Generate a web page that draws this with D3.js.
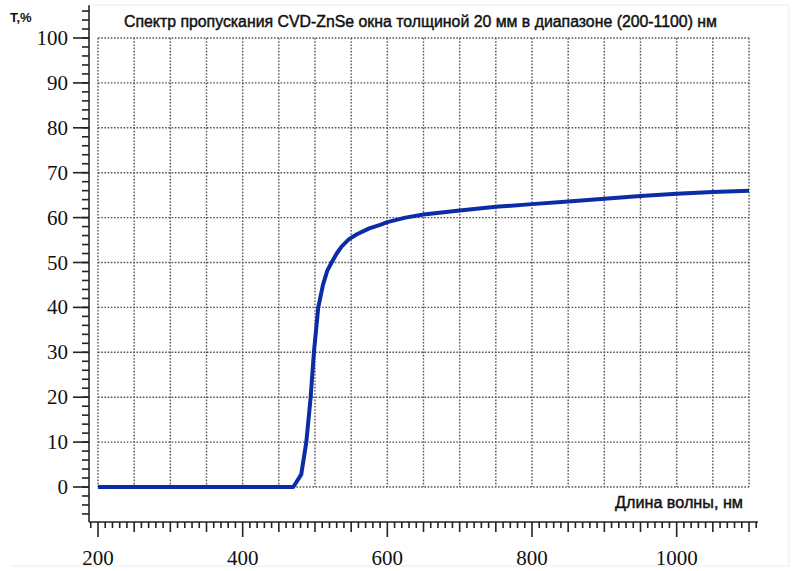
<!DOCTYPE html>
<html lang="ru">

<head>
    <meta charset="UTF-8">
    <title>Спектр пропускания CVD-ZnSe</title>
    <script src="https://d3js.org/d3.v7.min.js"></script>
    <style>
        body { margin: 0; background: #fff; }
        .serif { font-family: "Liberation Serif", "Times New Roman", serif; }
        .sans { font-family: "Liberation Sans", Arial, sans-serif; }
    </style>
</head>

<body>
    <svg width="800" height="571"></svg>

    <script>
        // spectrum: wavelength, nm / transmission, %
        const wavelength = [200, 470, 481, 488, 494, 498.5, 504.5, 511, 517, 523, 530, 537, 547, 558, 575, 590, 600, 625, 650, 700, 750, 800, 850, 900, 950, 1000, 1050, 1100];
        const transmission = [0, 0, 2.8, 10, 20, 30, 40, 45, 48.2, 50, 52, 53.6, 55.2, 56.3, 57.6, 58.4, 59, 60, 60.7, 61.6, 62.4, 63, 63.6, 64.2, 64.8, 65.3, 65.7, 66];

        const xMajorTicks = [200, 400, 600, 800, 1000];
        const yMajorTicks = [0, 10, 20, 30, 40, 50, 60, 70, 80, 90, 100];
        const xGrid = d3.range(200, 1101, 50);
        const yGrid = d3.range(0, 101, 10);

        const title = "Спектр пропускания CVD-ZnSe окна толщиной 20 мм в диапазоне (200-1100) нм";
        const xTitle = "Длина волны, нм";
        const yTitle = "T,%";

        const svg = d3.select("svg");

        const x = d3.scaleLinear().domain([200, 1100]).range([98, 749]);
        const y = d3.scaleLinear().domain([0, 100]).range([487, 38]);

        const axisX = 89;   // y axis sits left of the plot area
        const axisY = 522;  // x axis sits below the plot area

        function drawFrame() {
            // faint edges of the scanned sheet
            const frame = svg.append("g").attr("stroke", "#ececec").attr("stroke-width", 1);
            frame.append("line").attr("x1", 93).attr("y1", 5).attr("x2", 789).attr("y2", 5);
            frame.append("line").attr("x1", 789).attr("y1", 5).attr("x2", 789).attr("y2", 566);
            frame.append("line").attr("x1", 10).attr("y1", 566).attr("x2", 789).attr("y2", 566);
        }

        function drawGrid() {
            const grid = svg.append("g")
                .attr("stroke", "#555")
                .attr("stroke-width", 1.4)
                .attr("stroke-dasharray", "1.6,1.6");

            grid.selectAll(".vgrid")
                .data(xGrid)
                .enter().append("line")
                .attr("x1", d => x(d)).attr("x2", d => x(d))
                .attr("y1", y(100)).attr("y2", y(0));

            grid.selectAll(".hgrid")
                .data(yGrid)
                .enter().append("line")
                .attr("y1", d => y(d)).attr("y2", d => y(d))
                .attr("x1", x(200)).attr("x2", x(1100));
        }

        function drawAxes() {
            const g = svg.append("g").attr("stroke", "#222").attr("stroke-width", 1.6);

            // y axis line and ticks
            g.append("line")
                .attr("x1", axisX).attr("x2", axisX)
                .attr("y1", y(107.3)).attr("y2", axisY);

            g.selectAll(".yminor")
                .data(d3.range(-6, 107, 2))
                .enter().append("line")
                .attr("x1", axisX - 7).attr("x2", axisX)
                .attr("y1", d => y(d)).attr("y2", d => y(d));

            g.selectAll(".ymajor")
                .data(yMajorTicks)
                .enter().append("line")
                .attr("x1", axisX - 16).attr("x2", axisX)
                .attr("y1", d => y(d)).attr("y2", d => y(d));

            // x axis line and ticks
            g.append("line")
                .attr("x1", axisX).attr("x2", 758)
                .attr("y1", axisY).attr("y2", axisY);

            g.selectAll(".xminor")
                .data(d3.range(190, 1111, 10))
                .enter().append("line")
                .attr("x1", d => x(d)).attr("x2", d => x(d))
                .attr("y1", axisY)
                .attr("y2", d => xMajorTicks.includes(d) ? axisY + 15 : (d % 50 === 0 ? axisY + 10 : axisY + 6));

            svg.selectAll(".ylabel")
                .data(yMajorTicks)
                .enter().append("text")
                .attr("class", "serif")
                .attr("x", 68)
                .attr("y", d => y(d) + 7)
                .attr("text-anchor", "end")
                .style("font-size", "21px")
                .attr("fill", "#111")
                .text(d => d);

            svg.selectAll(".xlabel")
                .data(xMajorTicks)
                .enter().append("text")
                .attr("class", "serif")
                .attr("x", d => x(d))
                .attr("y", 565)
                .attr("text-anchor", "middle")
                .style("font-size", "21px")
                .attr("fill", "#111")
                .text(d => d);
        }

        function drawTitles() {
            // medium-weight look of the scanned captions: regular face with a thin outline
            svg.append("text")
                .attr("class", "sans")
                .attr("x", 124).attr("y", 27)
                .attr("textLength", 593)
                .attr("lengthAdjust", "spacingAndGlyphs")
                .style("font-size", "16px")
                .attr("fill", "#111")
                .attr("stroke", "#111")
                .attr("stroke-width", 0.45)
                .text(title);

            svg.append("text")
                .attr("class", "sans")
                .attr("x", 615).attr("y", 508)
                .attr("textLength", 128)
                .attr("lengthAdjust", "spacingAndGlyphs")
                .style("font-size", "16px")
                .attr("fill", "#111")
                .attr("stroke", "#111")
                .attr("stroke-width", 0.45)
                .text(xTitle);

            svg.append("text")
                .attr("class", "sans")
                .attr("x", 10).attr("y", 22)
                .style("font-size", "13px")
                .style("font-weight", "bold")
                .attr("fill", "#111")
                .text(yTitle);
        }

        function drawSpectrum() {
            const points = wavelength.map((w, i) => [w, transmission[i]]);
            const line = d3.line()
                .x(d => x(d[0]))
                .y(d => y(d[1]));

            svg.append("path")
                .datum(points)
                .attr("fill", "none")
                .attr("stroke", "#0a2ca6")
                .attr("stroke-width", 4)
                .attr("stroke-linejoin", "round")
                .attr("d", line);
        }

        drawFrame();
        drawGrid();
        drawAxes();
        drawTitles();
        drawSpectrum();
    </script>
</body>

</html>
